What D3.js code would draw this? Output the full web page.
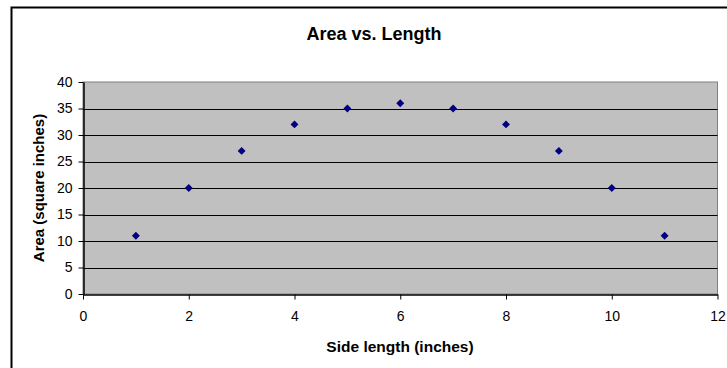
<!DOCTYPE html>
<html>
<head>
<meta charset="utf-8">
<script src="https://cdn.jsdelivr.net/npm/d3@7"></script>
<style>
  body { margin: 0; background: #fff; }
  svg text { font-family: "Liberation Sans", Arial, sans-serif; fill: #000; }
</style>
</head>
<body>
<div id="chart"></div>
<script>
// side lengths and areas
let sideLength = [1, 2, 3, 4, 5, 6, 7, 8, 9, 10, 11];
let area = [11, 20, 27, 32, 35, 36, 35, 32, 27, 20, 11];
let xTicks = [0, 2, 4, 6, 8, 10, 12];
let yTicks = [0, 5, 10, 15, 20, 25, 30, 35, 40];

let W = 727, H = 368;
let plot = {left: 83, top: 82, right: 717.5, bottom: 294};

let svg = d3.select("#chart").append("svg")
    .attr("width", W)
    .attr("height", H);

// outer chart border (runs off the right and bottom edges)
svg.append("rect")
    .attr("x", 11.5).attr("y", 7.5)
    .attr("width", W).attr("height", H)
    .attr("fill", "#fff")
    .attr("stroke", "#000")
    .attr("stroke-width", 2);

let x = d3.scaleLinear().domain([0, 12]).range([plot.left, plot.right]);
let y = d3.scaleLinear().domain([0, 40]).range([plot.bottom, plot.top]);

// grey plot background
svg.append("rect")
    .attr("x", plot.left).attr("y", plot.top)
    .attr("width", plot.right - plot.left)
    .attr("height", plot.bottom - plot.top)
    .attr("fill", "#c0c0c0")
    .attr("stroke", "#808080")
    .attr("stroke-width", 1);

// horizontal gridlines
svg.append("g")
    .selectAll("line")
    .data(yTicks.filter(d => d > 0 && d < 40))
    .enter().append("line")
    .attr("x1", plot.left).attr("x2", plot.right)
    .attr("y1", d => Math.round(y(d)) + 0.5)
    .attr("y2", d => Math.round(y(d)) + 0.5)
    .attr("stroke", "#000")
    .attr("stroke-width", 1);

// axes
let xAxis = svg.append("g")
    .attr("transform", "translate(0," + (Math.round(plot.bottom) + 0.5) + ")")
    .call(d3.axisBottom(x).tickValues(xTicks).tickSize(5).tickPadding(12).tickSizeOuter(0));

let yAxis = svg.append("g")
    .attr("transform", "translate(" + (plot.left + 0.5) + ",0)")
    .call(d3.axisLeft(y).tickValues(yTicks).tickSize(5).tickPadding(6).tickSizeOuter(0));

[xAxis, yAxis].forEach(a => {
    a.select(".domain").attr("stroke", "#000").attr("stroke-width", 1.5);
    a.selectAll(".tick line").attr("stroke", "#000");
    a.selectAll(".tick text")
        .attr("font-size", 14)
        .attr("font-family", "Liberation Sans, Arial, sans-serif");
});

// diamond markers
svg.append("g")
    .selectAll("path")
    .data(sideLength.map((d, i) => [d, area[i]]))
    .enter().append("path")
    .attr("d", d3.symbol(d3.symbolDiamond2, 40))
    .attr("transform", d => "translate(" + x(d[0]) + "," + y(d[1]) + ")")
    .attr("fill", "#000080");

// titles
svg.append("text")
    .attr("x", 374).attr("y", 40)
    .attr("text-anchor", "middle")
    .attr("font-size", 18)
    .attr("font-weight", "bold")
    .text("Area vs. Length");

svg.append("text")
    .attr("x", 400).attr("y", 352)
    .attr("text-anchor", "middle")
    .attr("font-size", 15.5)
    .attr("font-weight", "bold")
    .text("Side length (inches)");

svg.append("text")
    .attr("transform", "translate(44," + 188 + ") rotate(-90)")
    .attr("text-anchor", "middle")
    .attr("font-size", 15)
    .attr("font-weight", "bold")
    .text("Area (square inches)");
</script>
</body>
</html>
